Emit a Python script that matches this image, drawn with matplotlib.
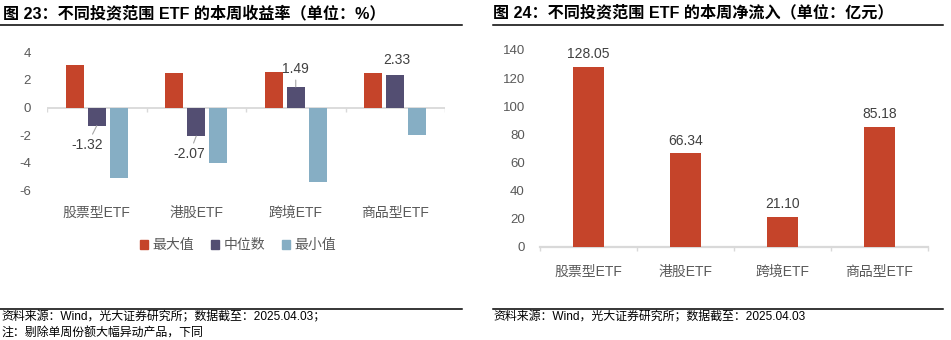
import numpy as np
import matplotlib
matplotlib.use("Agg")
import matplotlib.pyplot as plt
from matplotlib.lines import Line2D
from matplotlib.patches import Patch

plt.rcParams['font.family'] = ['Liberation Sans', 'Noto Sans CJK SC', 'DejaVu Sans']
plt.rcParams['axes.unicode_minus'] = False

# data for chart 23 (weekly return, %)
categories = ["股票型ETF", "港股ETF", "跨境ETF", "商品型ETF"]
max_vals = [3.07, 2.49, 2.54, 2.49]
median_vals = [-1.32, -2.07, 1.49, 2.33]
min_vals = [-5.14, -4.03, -5.41, -2.00]
series_names = ["最大值", "中位数", "最小值"]
ret_ticks = [4, 2, 0, -2, -4, -6]

# data for chart 24 (weekly net inflow, 100m yuan)
inflow_vals = [128.05, 66.34, 21.10, 85.18]
inflow_ticks = [0, 20, 40, 60, 80, 100, 120, 140]

RED = "#C5442A"
PURPLE = "#534E72"
BLUE = "#86AEC4"
GRAY_TXT = "#595959"
LABEL_TXT = "#404040"
AXIS_GRAY = "#D9D9D9"

W, H = 951, 340


def fx(px):
    return px / W


def fy(py):
    return 1 - py / H


def main():
    fig = plt.figure(figsize=(W / 100, H / 100), dpi=100)

    # titles and rules
    fig.text(fx(3), fy(13), "图 23：不同投资范围 ETF 的本周收益率（单位：%）",
             fontsize=11.6, fontweight='bold', va='center', ha='left', color='black')
    fig.text(fx(493), fy(13), "图 24：不同投资范围 ETF 的本周净流入（单位：亿元）",
             fontsize=11.6, fontweight='bold', va='center', ha='left', color='black')
    for x0, x1, y in [(0, 462, 24.5), (493, 943, 24.5), (0, 462, 308.5), (493, 943, 308.5)]:
        fig.add_artist(Line2D([fx(x0), fx(x1)], [fy(y), fy(y)], color='black', lw=1.1))

    # footers
    fig.text(fx(1), fy(317.5), "资料来源：Wind，光大证券研究所；数据截至：2025.04.03；",
             fontsize=8.6, va='center', ha='left', color='black')
    fig.text(fx(1), fy(334), "注：剔除单周份额大幅异动产品，下同",
             fontsize=8.6, va='center', ha='left', color='black')
    fig.text(fx(493), fy(317.5), "资料来源：Wind，光大证券研究所；数据截至：2025.04.03",
             fontsize=8.6, va='center', ha='left', color='black')

    # ---- chart 23 ----
    ax = fig.add_axes([fx(47), fy(190.3), fx(398), 138 / H])
    x = np.arange(len(categories))
    width = 0.18
    step = 0.22
    ax.bar(x - step, max_vals, width, color=RED, label=series_names[0], zorder=3)
    ax.bar(x, median_vals, width, color=PURPLE, label=series_names[1], zorder=3)
    ax.bar(x + step, min_vals, width, color=BLUE, label=series_names[2], zorder=3)
    ax.set_xlim(-0.5, len(categories) - 0.5)
    ax.set_ylim(-6, 4)
    ax.axhline(0, color=AXIS_GRAY, lw=1.3, zorder=2)
    ax.vlines(np.arange(len(categories) + 1) - 0.5, -0.3, 0, color=AXIS_GRAY, lw=1.0, zorder=2)
    for s in ax.spines.values():
        s.set_visible(False)
    ax.set_yticks(ret_ticks)
    ax.set_yticklabels([str(t) for t in ret_ticks])
    ax.tick_params(axis='y', length=0, pad=11.5, labelsize=9.5, labelcolor=GRAY_TXT)
    ax.set_xticks(x)
    ax.set_xticklabels(categories)
    ax.tick_params(axis='x', length=0, pad=11, labelsize=10, labelcolor=GRAY_TXT)

    # median labels (offsets in points, like excel moved labels)
    offsets = [(-7, -14), (-5, -13), (0, 13), (1, 11)]
    leaders = [True, True, True, False]
    for i, v in enumerate(median_vals):
        kw = {}
        if leaders[i]:
            kw['arrowprops'] = dict(arrowstyle='-', color='#A6A6A6', lw=0.8,
                                    shrinkA=1, shrinkB=0)
        ax.annotate(f"{v:.2f}", xy=(x[i], v), xytext=offsets[i], textcoords='offset points',
                    ha='center', va='center', fontsize=10, color=LABEL_TXT, **kw)

    handles = [Patch(color=RED), Patch(color=PURPLE), Patch(color=BLUE)]
    fig.legend(handles, series_names, loc='center', bbox_to_anchor=(fx(238), fy(245)),
               ncol=3, frameon=False, fontsize=10, labelcolor=GRAY_TXT,
               handlelength=0.6, handleheight=0.6, handletextpad=0.3, columnspacing=1.2)

    # ---- chart 24 ----
    ax2 = fig.add_axes([fx(540), fy(246.5), fx(388), 196.5 / H])
    ax2.bar(x, inflow_vals, 0.32, color=RED, zorder=3)
    ax2.set_xlim(-0.5, len(categories) - 0.5)
    ax2.set_ylim(0, 140)
    ax2.axhline(0, color=AXIS_GRAY, lw=1.6, zorder=2, clip_on=False)
    ax2.vlines(np.arange(len(categories) + 1) - 0.5, -3, 0, color=AXIS_GRAY, lw=1.0,
               zorder=2, clip_on=False)
    for s in ax2.spines.values():
        s.set_visible(False)
    ax2.set_yticks(inflow_ticks)
    ax2.set_yticklabels([str(t) for t in inflow_ticks])
    ax2.tick_params(axis='y', length=0, pad=11, labelsize=9.5, labelcolor=GRAY_TXT)
    ax2.set_xticks(x)
    ax2.set_xticklabels(categories)
    ax2.tick_params(axis='x', length=0, pad=13, labelsize=10, labelcolor=GRAY_TXT)
    for i, v in enumerate(inflow_vals):
        ax2.annotate(f"{v:.2f}", xy=(x[i], v), xytext=(0, 4), textcoords='offset points',
                     ha='center', va='bottom', fontsize=10, color=LABEL_TXT)

    fig.savefig("out.png", dpi=100)
    plt.close(fig)


if __name__ == "__main__":
    main()
